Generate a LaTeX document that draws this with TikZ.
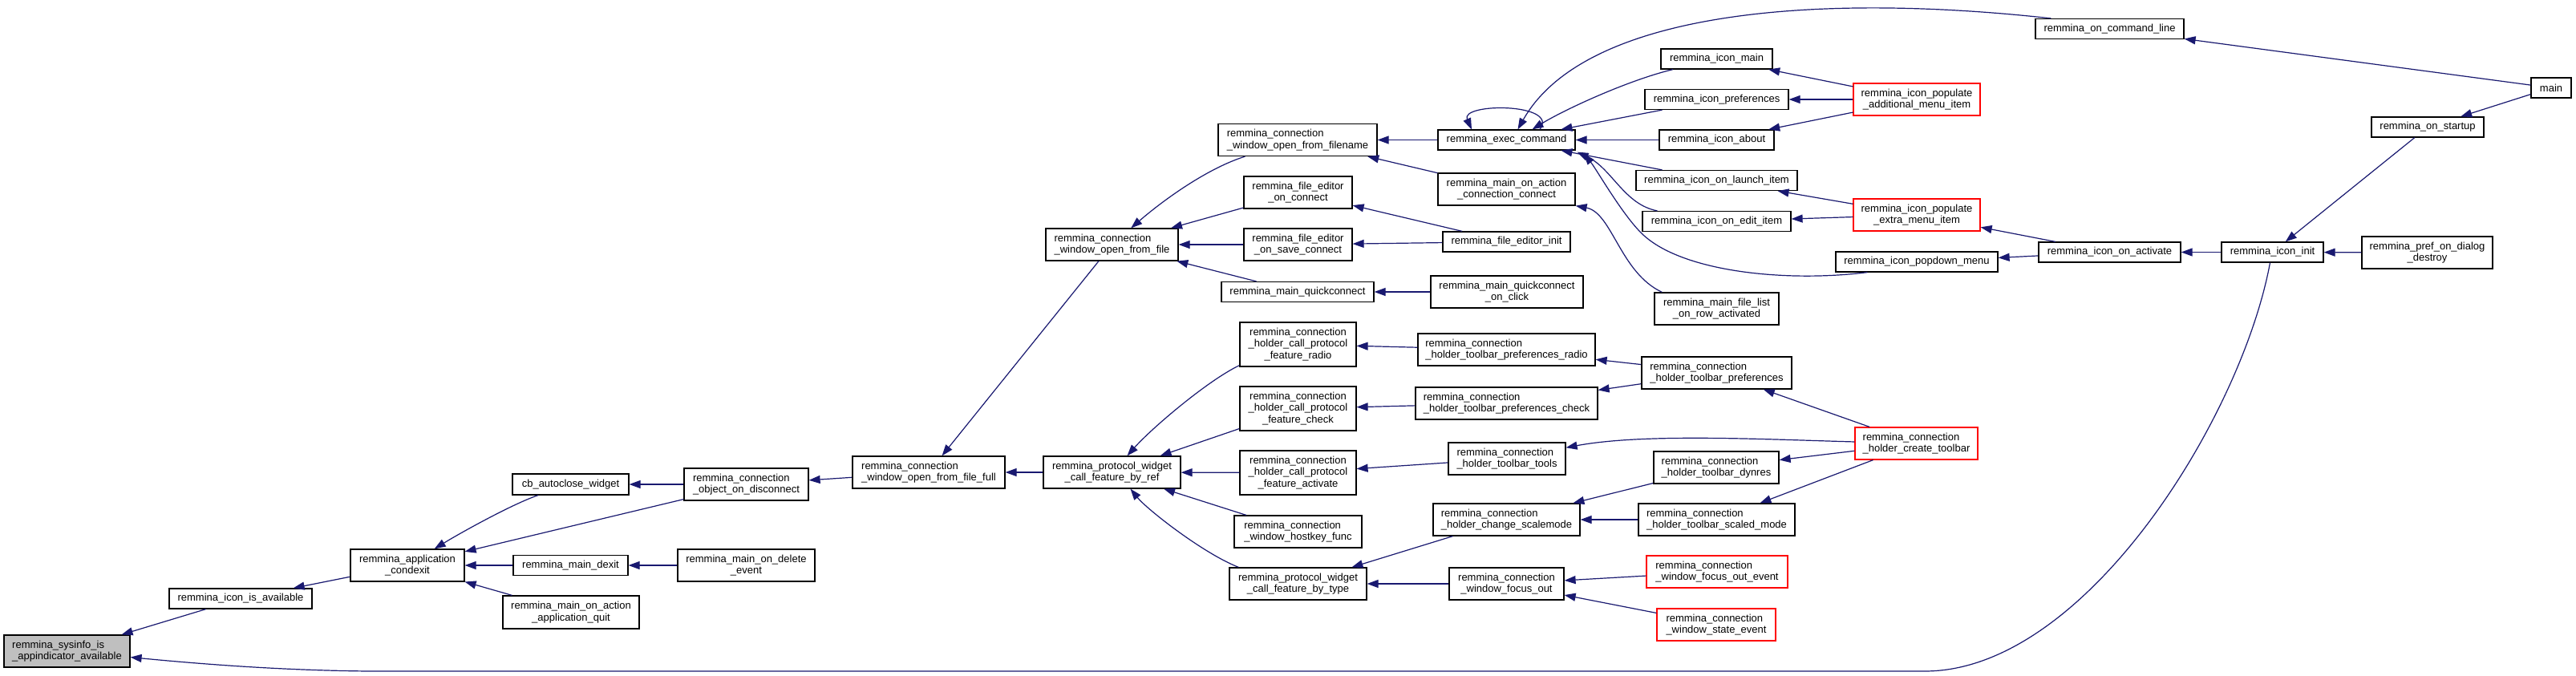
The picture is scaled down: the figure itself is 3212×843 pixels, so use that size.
\documentclass[tikz,border=0pt]{standalone}
\usepackage{fontspec}
\setmainfont{Liberation Sans}
\usetikzlibrary{arrows.meta}
\definecolor{edgecol}{RGB}{25,25,112}
\definecolor{sysgray}{RGB}{191,191,191}
\tikzset{
  box/.style={draw=black, line width=1.2pt, fill=white, inner sep=0pt, align=center,
              font=\fontsize{13}{14.5}\selectfont},
  lft/.style={align=left},
  redbox/.style={draw=red},
  e/.style={draw=edgecol, line width=1.2pt, -{Triangle[length=14pt,width=10pt]}}
}
\newcommand{\nd}[6][]{\node[box,#1,minimum width=#4pt,minimum height=#5pt] (#2) at (#3) {#6};}
\begin{document}
\begin{tikzpicture}[x=1pt,y=-1pt]
\useasboundingbox[fill=white] (0,0) rectangle (3212,843);
% nodes
\nd[fill=sysgray,lft]{sys}{83.5,812}{157}{40}{remmina\_sysinfo\_is\\\_appindicator\_available}
\nd{iav}{300,746.5}{178}{25}{remmina\_icon\_is\_available}
\nd{cond}{508,705}{142}{40}{remmina\_application\\\_condexit}
\nd{cb}{711.5,604}{145}{26}{cb\_autoclose\_widget}
\nd{dexit}{711.5,705}{143}{25}{remmina\_main\_dexit}
\nd{aquit}{712,763.5}{170}{41}{remmina\_main\_on\_action\\\_application\_quit}
\nd[lft]{disc}{930.5,604}{155}{40}{remmina\_connection\\\_object\_on\_disconnect}
\nd{del}{930.5,705}{171}{40}{remmina\_main\_on\_delete\\\_event}
\nd[lft]{full}{1158,589}{190}{40}{remmina\_connection\\\_window\_open\_from\_file\_full}
\nd{byref}{1386.5,589}{171}{40}{remmina\_protocol\_widget\\\_call\_feature\_by\_ref}
\nd[lft]{wof}{1386.5,305}{165}{40}{remmina\_connection\\\_window\_open\_from\_file}
\nd[lft]{wofn}{1618,174.5}{198}{40}{remmina\_connection\\\_window\_open\_from\_filename}
\nd{exec}{1878.5,174.5}{171}{25}{remmina\_exec\_command}
\nd{mac}{1878.5,236}{171}{40}{remmina\_main\_on\_action\\\_connection\_connect}
\nd{feoc}{1618.5,240}{135}{40}{remmina\_file\_editor\\\_on\_connect}
\nd{fesc}{1618.5,305}{135}{40}{remmina\_file\_editor\\\_on\_save\_connect}
\nd{fei}{1878.5,301.5}{159}{25}{remmina\_file\_editor\_init}
\nd{mqc}{1618,364}{190}{25}{remmina\_main\_quickconnect}
\nd{mqcc}{1879,364}{190}{40}{remmina\_main\_quickconnect\\\_on\_click}
\nd{imain}{2140.5,73.5}{139}{25}{remmina\_icon\_main}
\nd{ipref}{2140.5,124}{179}{25}{remmina\_icon\_preferences}
\nd{iabout}{2140.5,174.5}{143}{25}{remmina\_icon\_about}
\nd{ilaunch}{2140.5,225}{201}{25}{remmina\_icon\_on\_launch\_item}
\nd{iedit}{2140.5,276}{185}{25}{remmina\_icon\_on\_edit\_item}
\nd{mfl}{2140.5,385}{155}{40}{remmina\_main\_file\_list\\\_on\_row\_activated}
\nd[redbox]{ipadd}{2390,124}{158}{40}{remmina\_icon\_populate\\\_additional\_menu\_item}
\nd[redbox]{ipext}{2390,268}{158}{40}{remmina\_icon\_populate\\\_extra\_menu\_item}
\nd{ipop}{2390,326.5}{202}{25}{remmina\_icon\_popdown\_menu}
\nd{ocl}{2630.5,36}{185}{25}{remmina\_on\_command\_line}
\nd{main}{3181,109.5}{50}{25}{main}
\nd{ostart}{3027,158.5}{140}{25}{remmina\_on\_startup}
\nd{iact}{2630.5,314.5}{177}{25}{remmina\_icon\_on\_activate}
\nd{iinit}{2833.5,314.5}{127}{25}{remmina\_icon\_init}
\nd{pdd}{3026.5,315}{163}{40}{remmina\_pref\_on\_dialog\\\_destroy}
\nd{fradio}{1618.5,429.5}{145}{55}{remmina\_connection\\\_holder\_call\_protocol\\\_feature\_radio}
\nd{fcheck}{1618.5,509.5}{145}{55}{remmina\_connection\\\_holder\_call\_protocol\\\_feature\_check}
\nd{factiv}{1618.5,589.5}{145}{55}{remmina\_connection\\\_holder\_call\_protocol\\\_feature\_activate}
\nd[lft]{hostkey}{1618.5,663}{159}{40}{remmina\_connection\\\_window\_hostkey\_func}
\nd{bytype}{1618.5,728}{171}{40}{remmina\_protocol\_widget\\\_call\_feature\_by\_type}
\nd[lft]{tpradio}{1878.5,436}{221}{40}{remmina\_connection\\\_holder\_toolbar\_preferences\_radio}
\nd[lft]{tpcheck}{1878.5,503}{227}{40}{remmina\_connection\\\_holder\_toolbar\_preferences\_check}
\nd[lft]{ttools}{1879,572}{146}{40}{remmina\_connection\\\_holder\_toolbar\_tools}
\nd[lft]{chscale}{1878.5,648}{183}{40}{remmina\_connection\\\_holder\_change\_scalemode}
\nd{wfo}{1878.5,728}{143}{40}{remmina\_connection\\\_window\_focus\_out}
\nd[lft]{tprefs}{2140.5,465}{187}{40}{remmina\_connection\\\_holder\_toolbar\_preferences}
\nd[lft]{tdyn}{2140,583}{156}{40}{remmina\_connection\\\_holder\_toolbar\_dynres}
\nd[lft]{tscaled}{2140.5,648}{195}{40}{remmina\_connection\\\_holder\_toolbar\_scaled\_mode}
\nd[lft,redbox]{wfoe}{2141,713}{176}{40}{remmina\_connection\\\_window\_focus\_out\_event}
\nd[lft,redbox]{wse}{2140,779}{148}{40}{remmina\_connection\\\_window\_state\_event}
\nd[lft,redbox]{ctool}{2389.5,553}{153}{40}{remmina\_connection\\\_holder\_create\_toolbar}
% edges
\draw[e] (iav) -- (sys);
\draw[e] ([xshift=-3pt]iinit.south) .. controls (2795,520) and (2600,837) .. (2400,837) -- (460,837) .. controls (350,836) and (250,828) .. (sys);
\draw[e] (cond) -- (iav);
\draw[e] (cb) .. controls (640,628) and (575,664) .. (cond);
\draw[e] (disc) -- (cond);
\draw[e] (dexit) -- (cond);
\draw[e] (aquit) -- (cond);
\draw[e] (disc) -- (cb);
\draw[e] (del) -- (dexit);
\draw[e] (full) -- (disc);
\draw[e] (byref) -- (full);
\draw[e] (wof) -- (full);
\draw[e] (wofn) .. controls (1505,210) and (1450,250) .. (wof);
\draw[e] (feoc) -- (wof);
\draw[e] (fesc) -- (wof);
\draw[e] (mqc) -- (wof);
\draw[e] (exec) -- (wofn);
\draw[e] (mac) -- (wofn);
\draw[e] ([xshift=41.5pt]exec.north) .. controls (1945,128) and (1820,128) .. ([xshift=-43.5pt]exec.north);
\draw[e] (imain) .. controls (2030,100) and (1950,137) .. ([xshift=32pt]exec.north);
\draw[e] ([xshift=20pt]ocl.north west) .. controls (2260,-10) and (1975,15) .. ([xshift=14pt]exec.north);
\draw[e] (ipref) -- (exec);
\draw[e] (iabout) -- (exec);
\draw[e] (ilaunch) -- (exec);
\draw[e] ([xshift=19pt]iedit.north west) .. controls (2025,255) and (2010,210) .. ([xshift=2pt,yshift=-2pt]exec.south east);
\draw[e] ([xshift=40pt]ipop.south west) .. controls (2230,352) and (2100,340) .. (2049,293) .. controls (2024,270) and (1990,210) .. ([xshift=10pt,yshift=-4pt]exec.south east);
\draw[e] ([xshift=10pt]mfl.north west) .. controls (2020,340) and (2010,265) .. (mac.south east);
\draw[e] (fei) -- (feoc);
\draw[e] (fei) -- (fesc);
\draw[e] (mqcc) -- (mqc);
\draw[e] (ipadd) -- (imain);
\draw[e] (ipadd) -- (ipref);
\draw[e] (ipadd) -- (iabout);
\draw[e] (ipext) -- (ilaunch);
\draw[e] (ipext) -- (iedit);
\draw[e] (iact) -- (ipext);
\draw[e] (iact) -- (ipop);
\draw[e] (iinit) -- (iact);
\draw[e] (ostart) -- (iinit);
\draw[e] (pdd) -- (iinit);
\draw[e] (main) -- (ostart);
\draw[e] (main) -- (ocl);
\draw[e] ([yshift=2pt]fradio.south west) .. controls (1505,475) and (1435,535) .. ([xshift=19pt]byref.north);
\draw[e] (fcheck) -- (byref);
\draw[e] (factiv) -- (byref);
\draw[e] (hostkey) -- (byref);
\draw[e] ([xshift=12pt]bytype.north west) .. controls (1500,690) and (1430,635) .. ([xshift=23pt]byref.south);
\draw[e] (tpradio) -- (fradio);
\draw[e] (tpcheck) -- (fcheck);
\draw[e] (ttools) -- (factiv);
\draw[e] (chscale) -- (bytype);
\draw[e] (wfo) -- (bytype);
\draw[e] (tprefs) -- (tpradio);
\draw[e] (tprefs) -- (tpcheck);
\draw[e] (ctool) .. controls (2200,548) and (2050,540) .. (ttools);
\draw[e] (tdyn) -- (chscale);
\draw[e] (tscaled) -- (chscale);
\draw[e] (wfoe) -- (wfo);
\draw[e] (wse) -- (wfo);
\draw[e] (ctool) -- (tprefs);
\draw[e] (ctool) -- (tdyn);
\draw[e] (ctool) -- (tscaled);
\end{tikzpicture}
\end{document}
